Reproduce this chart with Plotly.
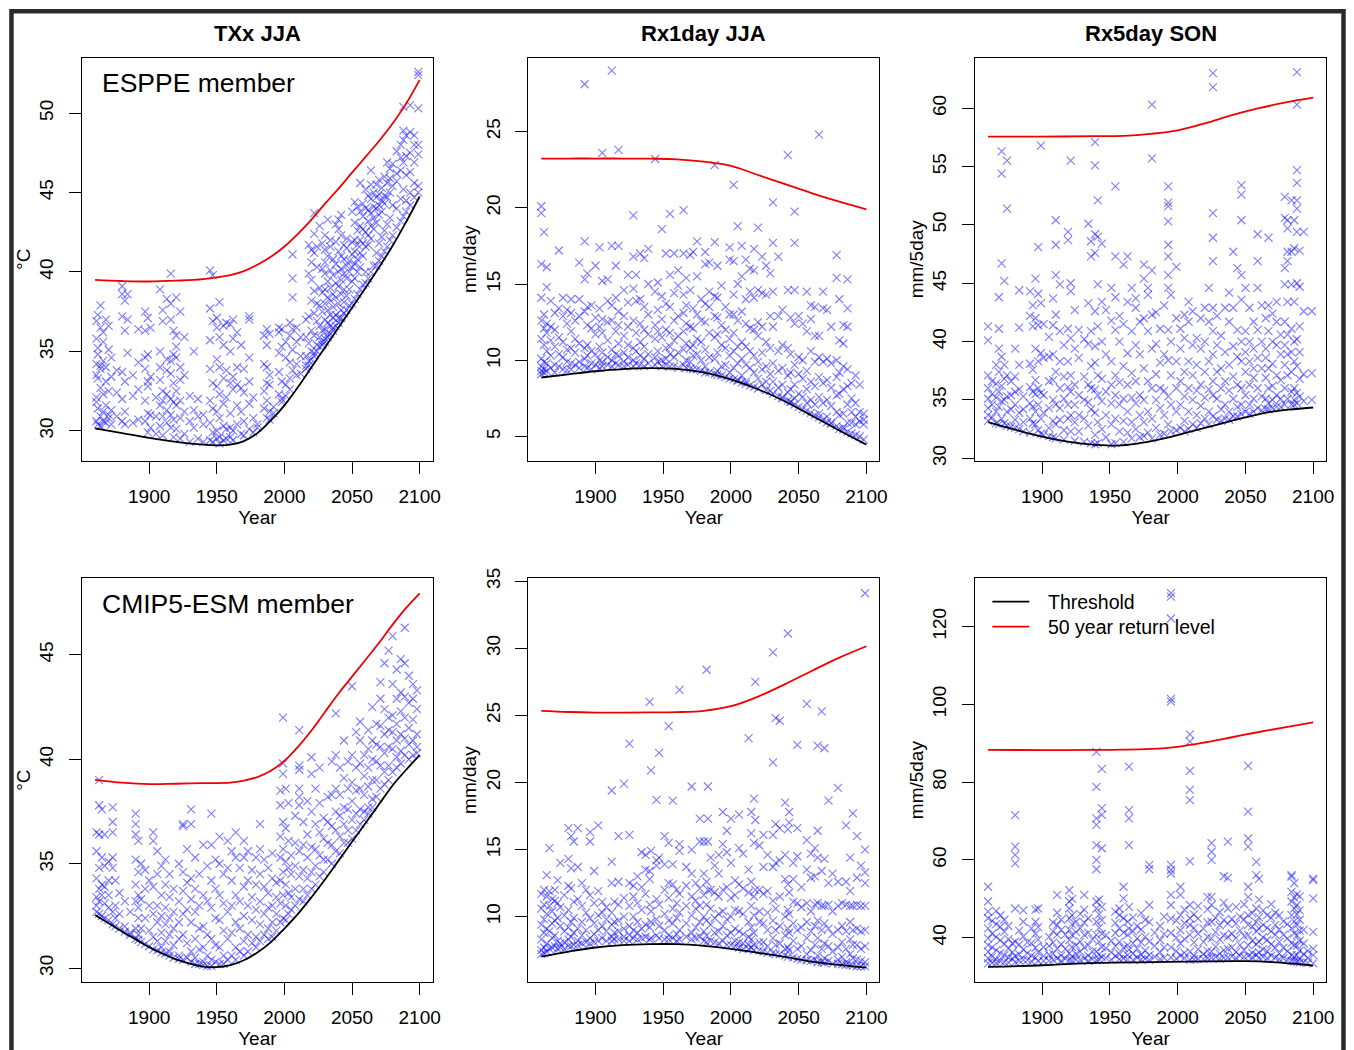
import plotly.graph_objects as go

# ---------------- text ----------------
PANEL_TITLES = ["TXx JJA", "Rx1day JJA", "Rx5day SON"]
ROW_LABELS = ["ESPPE member", "CMIP5-ESM member"]
Y_UNITS = ["°C", "mm/day", "mm/5day"]
X_TITLE = "Year"
X_TICKS = [1900, 1950, 2000, 2050, 2100]
LEGEND_LABELS = ["Threshold", "50 year return level"]

# ---------------- curves (threshold = black, 50-yr return level = red) ----------------
TXX_ESPPE_THR_YR = [1860, 1880, 1900, 1920, 1940, 1950, 1960, 1970, 1980, 1990, 2000, 2010, 2020, 2030, 2040, 2050, 2060, 2070, 2080, 2090, 2100]
TXX_ESPPE_THR = [30.15, 29.85, 29.55, 29.3, 29.12, 29.08, 29.12, 29.35, 29.85, 30.65, 31.6, 32.75, 34.0, 35.25, 36.5, 37.75, 39.0, 40.3, 41.65, 43.15, 44.75]
TXX_ESPPE_RL_YR = [1860, 1880, 1900, 1920, 1940, 1960, 1970, 1980, 1990, 2000, 2010, 2020, 2030, 2040, 2050, 2060, 2070, 2080, 2090, 2100]
TXX_ESPPE_RL = [39.5, 39.43, 39.4, 39.45, 39.55, 39.8, 40.05, 40.45, 40.95, 41.6, 42.4, 43.3, 44.3, 45.25, 46.25, 47.25, 48.25, 49.35, 50.6, 52.1]

RX1_ESPPE_YR = [1860, 1880, 1900, 1920, 1940, 1960, 1980, 2000, 2020, 2040, 2060, 2080, 2100]
RX1_ESPPE_THR = [8.87, 9.08, 9.28, 9.42, 9.48, 9.43, 9.2, 8.75, 8.1, 7.3, 6.35, 5.4, 4.47]
RX1_ESPPE_RL = [23.22, 23.23, 23.23, 23.23, 23.22, 23.18, 23.02, 22.75, 22.15, 21.55, 20.95, 20.4, 19.9]

RX5_ESPPE_THR_YR = [1860, 1880, 1900, 1920, 1940, 1955, 1970, 1990, 2010, 2030, 2050, 2070, 2085, 2100]
RX5_ESPPE_THR = [33.1, 32.45, 31.85, 31.4, 31.15, 31.08, 31.25, 31.7, 32.3, 32.9, 33.5, 34.0, 34.2, 34.35]
RX5_ESPPE_RL_YR = [1860, 1900, 1940, 1960, 1980, 2000, 2020, 2040, 2060, 2080, 2100]
RX5_ESPPE_RL = [57.57, 57.57, 57.6, 57.63, 57.8, 58.1, 58.7, 59.4, 60.0, 60.5, 60.9]

TXX_CMIP5_THR_YR = [1860, 1870, 1880, 1890, 1900, 1910, 1920, 1930, 1940, 1950, 1960, 1970, 1980, 1990, 2000, 2010, 2020, 2030, 2040, 2050, 2060, 2070, 2080, 2090, 2100]
TXX_CMIP5_THR = [32.55, 32.15, 31.75, 31.38, 31.0, 30.7, 30.42, 30.22, 30.08, 30.05, 30.15, 30.38, 30.75, 31.25, 31.9, 32.6, 33.4, 34.25, 35.15, 36.05, 36.95, 37.85, 38.75, 39.5, 40.2]
TXX_CMIP5_RL_YR = [1860, 1880, 1900, 1920, 1940, 1960, 1970, 1980, 1990, 2000, 2010, 2020, 2030, 2040, 2050, 2060, 2070, 2080, 2090, 2100]
TXX_CMIP5_RL = [39.02, 38.88, 38.81, 38.83, 38.86, 38.88, 38.98, 39.15, 39.45, 39.93, 40.6, 41.38, 42.27, 43.15, 43.96, 44.77, 45.58, 46.45, 47.25, 47.95]

RX1_CMIP5_YR = [1860, 1880, 1900, 1920, 1940, 1960, 1980, 2000, 2020, 2040, 2060, 2080, 2100]
RX1_CMIP5_THR = [7.02, 7.4, 7.7, 7.88, 7.95, 7.95, 7.82, 7.6, 7.3, 7.0, 6.65, 6.4, 6.2]
RX1_CMIP5_RL = [25.33, 25.25, 25.21, 25.21, 25.22, 25.24, 25.34, 25.68, 26.4, 27.33, 28.33, 29.3, 30.15]

RX5_CMIP5_THR_YR = [1860, 1900, 1940, 1980, 2020, 2050, 2070, 2085, 2100]
RX5_CMIP5_THR = [32.5, 32.9, 33.5, 33.7, 33.9, 33.95, 33.7, 33.3, 32.8]
RX5_CMIP5_RL_YR = [1860, 1900, 1940, 1960, 1980, 2000, 2020, 2040, 2060, 2080, 2100]
RX5_CMIP5_RL = [88.3, 88.25, 88.3, 88.35, 88.55, 89.1, 90.2, 91.55, 92.9, 94.15, 95.35]

# ---------------- exceedances: (year, [values]) ----------------
TXX_ESPPE_PTS = [
    (1861, [35.8, 36.9, 34.2, 32.1, 30.6, 31.8, 33.5]), (1862, [37.3, 35.2, 33.3, 30.4, 34.8, 31.4]),
    (1864, [37.9, 36.5, 34.1, 32.7, 30.9, 30.3, 33.9]), (1866, [36.2, 34.4, 31.2, 30.6, 32.3, 35.6]),
    (1868, [37.0, 34.0, 30.5, 33.1, 31.6]), (1870, [36.6, 35.1, 32.5, 31.0, 30.8]),
    (1872, [34.6, 33.4, 31.3, 30.4]), (1876, [32.4, 30.9, 33.8]),
    (1880, [39.1, 38.6, 37.2, 33.7, 32.0, 30.6]), (1882, [38.2, 36.3, 33.1, 31.2, 30.4]),
    (1884, [38.6, 37.0, 34.9]), (1888, [33.5, 32.2, 30.5]), (1892, [36.4, 34.3, 32.6, 30.7]),
    (1897, [37.5, 36.3, 33.9, 31.9, 30.6, 34.6]), (1899, [37.1, 34.8, 33.1, 32.8, 31.1, 29.9]),
    (1901, [36.5, 33.4, 31.0, 30.2]), (1905, [32.1, 30.9, 29.8]),
    (1908, [38.9, 35.0, 34.0, 33.2, 31.6, 30.3]), (1910, [37.6, 36.9, 32.5, 31.9, 30.9, 29.7]),
    (1913, [38.3, 34.5, 33.8, 32.3, 31.3, 30.5]), (1916, [39.9, 38.0, 37.0, 34.4, 33.6, 32.0, 31.0, 30.2]),
    (1918, [36.3, 34.8, 33.0, 31.8, 30.7, 29.6]), (1920, [38.4, 36.0, 35.3, 34.6, 32.5, 31.6, 30.1]),
    (1923, [37.5, 34.0, 33.2, 31.9, 30.8, 29.5]), (1926, [35.9, 33.5, 31.2, 29.8]),
    (1930, [32.2, 30.6, 29.3]), (1933, [35.0, 31.3, 30.2]), (1936, [32.0, 30.9, 29.5]),
    (1940, [31.0, 30.4, 29.3]), (1945, [40.1, 37.7, 35.7, 33.9, 31.9, 30.5, 29.4]),
    (1947, [39.8, 36.9, 33.0, 31.4, 29.9, 29.3]), (1950, [37.1, 36.5, 34.5, 32.8, 31.2, 30.0, 29.5]),
    (1952, [38.1, 35.9, 34.0, 32.3, 30.8, 29.6, 29.2]), (1955, [36.6, 35.4, 33.3, 31.7, 30.3, 29.4]),
    (1957, [36.8, 33.8, 32.1, 30.1, 29.5]), (1960, [36.7, 35.0, 33.0, 31.1, 30.2, 29.6]),
    (1962, [37.0, 35.8, 33.4, 32.6, 30.0, 29.4]), (1965, [36.2, 34.0, 32.9, 31.6, 30.4]),
    (1968, [35.4, 32.7, 31.2, 29.8]), (1970, [33.9, 32.4, 30.6, 29.7]),
    (1974, [37.2, 37.0, 34.6, 33.1, 31.7, 30.1]), (1977, [32.1, 30.8, 29.9]), (1980, [30.4, 30.2]),
    (1985, [36.0, 34.2, 32.5, 31.4]), (1987, [36.4, 35.4, 34.0, 33.0, 31.9, 30.8]),
    (1989, [36.1, 33.5, 32.9, 31.2, 30.7]), (1992, [31.5, 31.1]),
    (1996, [36.5, 36.2, 34.9, 33.7, 32.3]), (1998, [36.4, 35.3, 33.1, 32.0, 31.8]),
    (2001, [35.6, 34.6, 32.9, 32.2]), (2004, [36.8, 36.0, 34.3, 33.3, 32.6]),
    (2006, [41.1, 39.6, 38.4, 36.4, 35.1, 33.8]), (2009, [36.5, 35.6, 34.2, 33.5]),
    (2012, [35.9, 34.7, 33.6]), (2016, [37.0, 35.9, 34.7, 34.1, 33.9]),
    (2018, [41.7, 39.9, 37.2, 35.5, 34.4, 34.1]), (2020, [41.4, 40.6, 39.5, 38.2, 36.3, 35.0, 34.5]),
    (2022, [43.7, 42.4, 41.2, 38.8, 37.4, 36.0, 34.9, 34.7]), (2024, [41.6, 40.3, 38.0, 36.9, 35.4, 35.0]),
    (2026, [42.9, 39.0, 37.9, 36.6, 35.9, 35.3]), (2028, [41.8, 40.2, 38.7, 37.5, 36.3, 35.6, 35.4]),
    (2030, [42.3, 41.4, 40.6, 39.9, 38.9, 38.0, 37.0, 36.4, 35.8, 35.6]),
    (2032, [43.3, 41.0, 39.4, 38.4, 37.6, 36.8, 36.1, 35.9]),
    (2034, [42.0, 41.6, 40.1, 39.0, 38.2, 37.3, 36.6, 36.1]), (2036, [40.8, 39.8, 38.6, 37.8, 37.1, 36.5, 36.3]),
    (2038, [43.0, 41.9, 40.5, 39.3, 38.4, 37.3, 36.6]), (2040, [43.3, 42.7, 41.3, 40.0, 39.1, 38.0, 37.1, 36.8]),
    (2042, [43.6, 42.3, 41.0, 40.2, 39.5, 38.6, 37.6, 37.1]), (2044, [41.7, 40.8, 39.9, 38.9, 38.1, 37.4]),
    (2046, [42.1, 41.5, 40.4, 39.6, 38.5, 37.6]), (2048, [40.7, 40.0, 38.9, 37.9]),
    (2050, [43.8, 41.9, 41.1, 40.3, 39.4, 38.0]), (2052, [44.4, 43.1, 42.0, 41.3, 40.5, 39.6, 38.3]),
    (2054, [44.1, 42.6, 41.7, 40.8, 40.0, 38.6]), (2056, [45.6, 43.8, 42.9, 42.0, 41.2, 40.3, 38.9]),
    (2058, [44.3, 43.5, 42.7, 41.8, 41.0, 39.2]), (2060, [45.2, 44.0, 42.5, 41.6, 40.0, 39.3]),
    (2062, [44.8, 43.9, 43.2, 42.3, 41.7, 39.6]), (2064, [46.4, 45.5, 44.6, 43.7, 42.9, 42.1, 40.0]),
    (2066, [45.0, 44.1, 43.4, 42.7, 40.4]), (2068, [45.5, 44.7, 44.0, 43.1, 41.2, 40.4]),
    (2070, [45.8, 44.9, 44.2, 43.6, 41.8, 40.7]), (2072, [45.3, 44.5, 43.8, 42.2, 41.0]),
    (2074, [46.0, 44.8, 44.3, 42.6, 41.3]), (2076, [46.9, 45.6, 44.7, 43.0, 41.6]),
    (2078, [46.5, 45.9, 45.0, 43.4, 42.0]), (2080, [46.8, 45.4, 44.2, 42.3]),
    (2083, [47.6, 46.2, 45.7, 44.0, 42.8]), (2086, [48.0, 47.2, 46.4, 44.6, 43.2]),
    (2088, [50.4, 48.9, 48.3, 46.9, 45.2, 43.5]), (2090, [48.6, 47.3, 46.1, 44.5, 43.8]),
    (2093, [50.5, 48.8, 47.5, 46.3, 45.0, 44.2]), (2096, [48.6, 48.0, 46.9, 45.6, 44.7]),
    (2099, [52.6, 52.4, 50.3, 48.0, 47.4, 45.4, 45.0]),
]

RX1_ESPPE_PTS = [
    (1860, [20.1, 19.65, 16.3, 14.1, 12.6, 11.4, 10.1, 9.6, 9.3, 9.1]), (1862, [18.4, 13.0, 12.1, 11.0, 9.9, 9.4, 9.2]),
    (1864, [16.1, 14.8, 12.4, 11.8, 10.6, 9.8, 9.3]), (1867, [13.9, 12.2, 11.3, 10.3, 9.5]),
    (1870, [13.1, 12.0, 10.9, 9.7, 9.2]), (1873, [17.2, 13.4, 11.5, 10.4, 9.6]),
    (1876, [14.1, 12.9, 11.2, 10.2, 9.4]), (1879, [13.3, 12.4, 10.7, 9.9, 9.35]),
    (1882, [14.0, 13.1, 11.9, 10.8, 9.8, 9.4]), (1885, [12.6, 11.4, 10.5, 9.7]),
    (1888, [16.4, 14.0, 12.9, 11.1, 9.9, 9.5]), (1892, [28.1, 17.8, 15.3, 13.2, 10.8, 10.1, 9.6]),
    (1894, [15.7, 13.5, 12.3, 11.0, 10.3, 9.5]), (1897, [13.6, 12.1, 10.6, 9.8, 9.4]),
    (1900, [16.2, 12.8, 11.7, 10.4, 9.7]), (1903, [17.4, 13.4, 12.2, 10.9, 10.0, 9.5]),
    (1905, [23.6, 15.2, 12.7, 11.8, 10.5, 9.9, 9.6]), (1909, [15.3, 13.9, 12.5, 11.3, 10.2, 9.7]),
    (1912, [29.0, 17.5, 13.6, 12.6, 10.7, 10.0, 9.6]), (1915, [16.2, 14.1, 11.9, 10.4, 9.8]),
    (1917, [23.8, 17.5, 13.2, 12.3, 11.1, 10.3, 9.7]), (1921, [14.6, 12.9, 11.6, 10.5, 9.9, 9.6]),
    (1924, [15.6, 13.8, 12.2, 11.0, 10.2, 9.7]), (1928, [19.5, 16.8, 14.7, 12.6, 10.8, 10.0, 9.6]),
    (1930, [15.6, 13.9, 11.8, 10.6, 9.8]), (1933, [17.0, 14.0, 12.4, 11.2, 10.3, 9.7]),
    (1936, [16.7, 13.5, 12.0, 10.9, 10.1, 9.6]), (1939, [17.3, 15.0, 13.0, 11.7, 10.4, 9.8]),
    (1944, [23.2, 14.5, 12.3, 11.4, 10.2, 9.7]), (1946, [15.1, 13.3, 11.9, 10.6, 9.9]),
    (1949, [18.6, 14.2, 12.7, 11.5, 10.0, 9.6]), (1952, [17.0, 13.7, 12.0, 10.8, 10.1, 9.7]),
    (1955, [19.6, 15.6, 13.5, 11.8, 10.9, 10.4, 9.6]), (1958, [17.0, 14.4, 12.6, 11.3, 10.2, 9.6]),
    (1961, [15.9, 14.9, 12.9, 11.6, 10.5, 9.5]), (1965, [19.85, 17.0, 14.3, 13.1, 11.9, 10.7, 9.7]),
    (1967, [15.4, 13.6, 12.4, 11.1, 10.0, 9.5]), (1970, [16.9, 14.6, 12.2, 10.8, 9.9, 9.45]),
    (1972, [17.1, 13.4, 12.1, 11.0, 10.3, 9.4]), (1975, [17.8, 15.5, 13.0, 11.4, 10.4, 9.4]),
    (1978, [14.0, 12.6, 11.2, 10.0, 9.3]), (1981, [17.1, 16.3, 13.7, 12.5, 10.7, 9.6, 9.2]),
    (1984, [16.4, 14.5, 13.5, 11.8, 10.2, 9.2]), (1988, [22.8, 17.75, 14.2, 12.9, 11.5, 10.1, 9.1]),
    (1990, [16.2, 14.1, 12.8, 11.7, 10.5, 9.3, 9.05]), (1993, [14.9, 12.3, 11.0, 9.6, 9.0]),
    (1996, [13.5, 12.0, 10.8, 9.7, 8.9]), (1999, [17.4, 16.6, 13.0, 11.4, 10.3, 9.2, 8.8]),
    (2002, [21.5, 16.5, 14.3, 13.0, 11.8, 10.6, 9.5, 8.75]), (2005, [18.8, 15.0, 12.6, 10.9, 9.8, 8.7, 8.65]),
    (2008, [17.5, 15.5, 13.2, 11.2, 10.1, 9.0, 8.55]), (2011, [16.6, 14.0, 12.4, 10.9, 9.7, 8.6, 8.45]),
    (2014, [16.0, 14.5, 12.1, 10.6, 9.5, 8.35]), (2017, [17.3, 15.9, 14.1, 12.0, 10.3, 9.2, 8.25]),
    (2020, [18.7, 14.6, 12.5, 11.6, 9.9, 8.8, 8.15]), (2023, [16.8, 14.4, 12.2, 10.5, 9.4, 8.4]),
    (2026, [16.2, 14.3, 11.2, 9.6, 8.6, 8.05]), (2029, [15.7, 12.9, 10.8, 9.1, 8.0]),
    (2031, [20.35, 17.7, 14.5, 12.2, 9.8, 8.6, 7.8]), (2035, [16.8, 12.9, 10.6, 9.3, 8.2, 7.65]),
    (2038, [13.3, 11.0, 9.5, 8.4, 7.6, 7.5]), (2042, [23.45, 14.6, 10.8, 9.0, 7.9, 7.35]),
    (2044, [12.8, 10.4, 9.2, 8.1, 7.3, 7.25]), (2047, [19.75, 17.7, 14.6, 12.4, 9.7, 8.4, 7.5, 7.1]),
    (2050, [12.9, 10.2, 9.1, 7.8, 6.95]), (2053, [12.4, 10.0, 8.8, 7.6, 6.8]),
    (2056, [14.5, 11.9, 9.3, 8.1, 7.2, 6.7]), (2059, [13.6, 12.7, 10.6, 8.6, 7.4, 6.55]),
    (2062, [13.5, 11.6, 9.9, 8.3, 7.1, 6.4]), (2065, [24.8, 11.6, 10.2, 8.9, 7.6, 6.5, 6.25]),
    (2068, [14.5, 13.4, 9.9, 8.5, 7.2, 6.1]), (2071, [13.3, 10.1, 8.7, 7.4, 6.3, 5.95]),
    (2074, [12.2, 9.8, 8.2, 7.0, 5.9, 5.85]), (2078, [16.9, 15.4, 10.0, 8.9, 7.7, 6.6, 5.7]),
    (2080, [14.0, 11.3, 9.2, 7.8, 6.4, 5.5]), (2083, [12.3, 11.1, 9.6, 8.1, 6.5, 5.6, 5.45]),
    (2086, [15.3, 13.4, 12.2, 9.4, 8.3, 7.1, 5.9, 5.3]), (2089, [8.5, 7.5, 6.6, 5.9, 5.2]),
    (2092, [9.0, 7.2, 6.3, 5.8, 5.1]), (2095, [8.4, 6.6, 6.0, 5.0]), (2098, [6.5, 6.1, 5.8, 4.8]),
]

RX5_ESPPE_PTS = [
    (1860, [41.3, 40.1, 37.1, 36.0, 35.1, 34.3, 33.7, 33.2]), (1863, [36.6, 35.5, 34.6, 33.5]),
    (1866, [38.0, 36.4, 35.2, 34.0, 33.0]), (1868, [43.8, 41.1, 39.4, 37.4, 35.7, 34.4, 32.9]),
    (1870, [56.3, 54.4, 46.7, 38.7, 36.2, 34.9, 33.4]), (1872, [45.2, 38.0, 36.8, 35.0, 33.0]),
    (1874, [55.5, 51.4, 37.1, 35.3, 34.0, 32.8]), (1877, [36.6, 35.4, 34.2, 32.7]),
    (1880, [39.4, 37.0, 35.7, 34.6, 33.3, 32.6]), (1883, [44.4, 41.2, 38.0, 35.9, 33.9, 32.5]),
    (1886, [35.3, 34.2, 33.1, 32.3]), (1891, [44.3, 42.2, 38.1, 36.1, 34.7, 33.4, 32.2]),
    (1893, [43.1, 41.3, 37.6, 35.7, 34.4, 33.0]), (1895, [45.4, 42.0, 39.4, 36.7, 35.5, 34.0, 32.9]),
    (1897, [48.1, 44.1, 41.4, 38.3, 36.0, 34.6, 32.4]), (1899, [56.8, 43.3, 39.0, 35.6, 33.4, 32.1]),
    (1901, [41.5, 38.6, 35.4, 33.9, 32.0]), (1905, [40.4, 38.7, 36.6, 34.3, 32.6, 31.9]),
    (1908, [43.7, 41.4, 38.9, 36.7, 35.0, 33.2, 31.8]), (1910, [50.4, 48.3, 45.7, 42.3, 37.4, 34.6, 32.9, 31.7]),
    (1913, [44.9, 40.9, 38.3, 36.0, 34.3, 33.3]), (1916, [39.7, 37.0, 35.1, 32.4, 31.6]),
    (1919, [49.4, 48.7, 41.1, 38.3, 36.1, 34.6, 33.4]), (1921, [55.5, 45.0, 44.3, 40.3, 37.1, 35.7, 33.7, 32.3]),
    (1924, [42.7, 39.4, 36.3, 34.6, 33.1, 31.5]), (1927, [41.0, 38.6, 35.4, 33.7, 32.3]),
    (1931, [40.2, 37.0, 35.0, 33.4, 31.4]), (1934, [50.1, 43.3, 39.8, 36.3, 34.8, 32.8]),
    (1936, [48.6, 47.3, 40.9, 37.9, 36.0, 34.2, 31.3]),
    (1939, [57.1, 55.1, 49.2, 47.6, 42.6, 39.6, 38.2, 35.9, 33.9, 32.0, 31.2]),
    (1941, [52.1, 49.0, 44.9, 41.3, 37.1, 35.4, 33.1, 31.3]), (1944, [48.4, 43.4, 40.0, 36.8, 34.9, 32.5]),
    (1947, [42.7, 38.9, 35.7, 33.7, 31.8]), (1951, [44.6, 41.8, 38.3, 36.3, 34.7, 32.9, 31.2]),
    (1954, [53.3, 47.3, 43.8, 41.0, 37.1, 35.4, 33.4, 31.3]), (1957, [42.2, 40.0, 36.5, 34.6, 32.3]),
    (1960, [46.6, 41.5, 37.9, 35.1, 33.2, 31.4]), (1963, [47.3, 43.4, 39.0, 36.3, 34.0, 32.2]),
    (1966, [44.6, 40.9, 37.3, 35.2, 33.1, 31.7]), (1969, [43.7, 42.9, 39.7, 36.6, 34.7, 32.5]),
    (1972, [41.7, 38.9, 35.4, 33.7, 31.8]), (1975, [46.6, 45.4, 42.0, 37.7, 35.0, 33.1, 31.9]),
    (1978, [44.6, 44.0, 40.9, 36.6, 34.0, 32.2]), (1981, [60.3, 55.7, 46.1, 42.3, 39.4, 36.0, 33.4, 31.7]),
    (1984, [42.5, 39.8, 37.2, 35.0, 32.6]), (1987, [41.1, 38.2, 36.0, 34.3, 32.0]),
    (1990, [43.1, 38.9, 35.8, 33.7, 32.1]),
    (1993, [53.3, 51.9, 51.6, 50.3, 48.3, 47.3, 45.7, 44.6, 41.0, 38.4, 35.3, 32.9]),
    (1995, [44.0, 40.0, 37.1, 34.6, 32.3]), (1999, [46.4, 42.0, 38.3, 36.0, 34.0, 32.4]),
    (2002, [41.1, 39.4, 36.6, 34.6, 32.6]), (2005, [42.3, 40.3, 37.4, 35.3, 33.2, 32.3]),
    (2008, [43.4, 41.7, 38.3, 36.0, 34.0, 32.5]), (2011, [42.6, 39.7, 37.1, 35.0, 32.9]),
    (2014, [40.3, 38.0, 35.8, 33.7, 32.6]), (2017, [42.0, 39.4, 36.3, 34.5, 33.0]),
    (2020, [42.9, 40.0, 37.4, 35.2, 33.4]), (2023, [44.6, 41.7, 38.3, 35.9, 34.0, 32.9]),
    (2026, [63.0, 61.8, 51.0, 48.9, 46.9, 42.9, 40.9, 38.9, 36.6, 35.4, 33.6]),
    (2029, [42.2, 39.7, 37.4, 35.1, 33.3]), (2032, [40.5, 37.7, 36.0, 34.2, 33.2]),
    (2035, [42.9, 39.1, 36.6, 34.6, 33.4]), (2038, [44.2, 41.7, 38.0, 35.8, 34.0, 33.3]),
    (2041, [47.7, 42.9, 39.6, 37.0, 35.1, 33.6]), (2044, [46.3, 41.0, 38.7, 36.3, 34.4, 33.6]),
    (2047, [53.4, 52.6, 50.4, 45.7, 43.6, 40.0, 38.3, 36.0, 34.6, 33.8]),
    (2050, [44.6, 40.9, 39.1, 37.4, 35.4, 34.0]), (2053, [42.9, 40.0, 38.3, 36.3, 34.6, 33.8]),
    (2056, [41.7, 39.4, 37.7, 36.9, 35.1, 34.0]), (2059, [49.2, 46.9, 44.6, 41.0, 38.6, 36.0, 34.3]),
    (2062, [43.1, 40.0, 37.7, 35.3, 34.1]), (2065, [42.0, 39.4, 38.6, 36.9, 35.1, 34.2]),
    (2067, [48.9, 43.1, 40.9, 37.7, 36.0, 34.7, 34.2]), (2070, [42.4, 40.0, 38.1, 36.2, 35.0, 34.3]),
    (2073, [43.4, 41.7, 39.7, 37.1, 35.4, 34.4]), (2076, [40.6, 38.9, 36.7, 35.1, 34.4]),
    (2079, [52.4, 50.6, 46.3, 44.9, 41.7, 39.7, 38.0, 36.0, 34.6]),
    (2081, [50.4, 49.7, 47.7, 46.9, 43.4, 40.6, 38.9, 37.1, 35.1]),
    (2084, [52.1, 47.7, 44.9, 41.1, 39.1, 37.4, 35.7, 34.6]), (2086, [50.4, 48.0, 43.4, 40.0, 38.3, 36.0, 35.0, 34.6]),
    (2088, [63.1, 60.3, 54.7, 53.6, 52.1, 51.4, 49.4, 45.0, 40.2, 37.9, 35.6, 34.7]),
    (2090, [47.8, 44.7, 41.3, 39.1, 36.8, 35.3]), (2093, [49.4, 42.6, 37.2, 34.9]),
    (2099, [42.6, 37.3, 35.0]),
]

TXX_CMIP5_PTS = [
    (1861, [36.5, 35.6, 34.3, 33.4, 33.0, 32.7]), (1863, [39.0, 37.8, 36.4, 34.8, 33.8, 33.2, 32.6]),
    (1865, [37.6, 35.3, 34.0, 33.5, 32.5]), (1867, [36.4, 34.9, 33.9, 33.1, 32.4]),
    (1870, [35.1, 34.2, 33.5, 32.9, 32.3]), (1873, [37.7, 37.0, 36.5, 35.3, 34.8, 32.7, 32.1]),
    (1875, [34.2, 33.0, 32.4, 32.0]), (1878, [33.6, 32.6, 31.9]), (1882, [33.2, 32.0, 31.75]),
    (1886, [32.7, 31.7, 31.6]), (1890, [37.4, 36.9, 36.4, 35.2, 34.0, 33.2, 31.9, 31.4]),
    (1892, [36.1, 34.6, 33.5, 32.9, 32.4, 31.6, 31.35]), (1894, [35.0, 33.3, 31.9, 31.25]),
    (1897, [34.7, 33.8, 32.4, 31.15]), (1900, [34.2, 33.0, 31.8, 31.05]),
    (1903, [36.5, 36.1, 33.9, 32.6, 31.5, 30.9]), (1906, [35.6, 34.5, 33.0, 32.2, 31.3, 30.85]),
    (1909, [34.9, 33.5, 32.5, 31.7, 31.0, 30.75]), (1912, [35.2, 34.0, 32.9, 32.1, 31.3, 30.7]),
    (1915, [34.5, 33.4, 32.4, 31.6, 30.8, 30.6]), (1918, [33.8, 32.7, 31.9, 31.1, 30.5]),
    (1922, [35.0, 33.2, 32.2, 31.4, 30.6, 30.45]), (1925, [36.9, 36.8, 34.6, 33.7, 32.6, 31.6, 30.4]),
    (1928, [35.7, 34.1, 32.8, 31.2, 30.5]), (1931, [37.6, 36.9, 34.3, 33.3, 32.2, 30.8, 30.3]),
    (1934, [35.3, 33.8, 32.7, 31.4, 30.5, 30.2]), (1937, [34.5, 33.0, 31.9, 30.9, 30.2]),
    (1940, [35.9, 33.5, 32.0, 31.0, 30.3, 30.15]), (1943, [34.9, 33.2, 31.6, 30.6, 30.1]),
    (1946, [37.4, 35.9, 34.2, 32.9, 31.4, 30.4, 30.1]), (1949, [35.2, 33.8, 32.4, 31.1, 30.3]),
    (1952, [36.3, 35.0, 33.5, 32.3, 31.0, 30.2]), (1955, [34.5, 33.1, 31.8, 30.6, 30.2]),
    (1958, [36.1, 34.8, 32.7, 31.4, 30.4]), (1961, [35.6, 34.2, 33.0, 31.7, 30.6]),
    (1964, [36.5, 35.3, 33.5, 32.2, 31.0, 30.4]), (1967, [34.8, 33.2, 31.9, 30.8]),
    (1970, [36.1, 35.3, 33.9, 32.5, 31.3, 30.6]), (1973, [35.6, 34.2, 33.0, 31.6, 30.8]),
    (1976, [34.7, 33.4, 32.3, 31.2]), (1979, [35.3, 34.0, 32.8, 31.5, 31.0]),
    (1982, [36.9, 35.7, 34.5, 33.2, 32.1, 31.3]), (1985, [35.2, 33.9, 32.6, 31.6]),
    (1988, [34.8, 33.6, 32.9, 31.9, 31.4]), (1991, [35.5, 34.3, 33.0, 32.2, 31.5]),
    (1994, [34.1, 33.4, 32.6, 31.8]), (1997, [38.5, 37.8, 36.3, 35.3, 34.2, 33.1, 32.2]),
    (1999, [42.0, 39.8, 39.3, 37.0, 35.7, 34.6, 33.5, 32.4]), (2001, [38.6, 36.7, 35.1, 34.0, 33.0, 32.3]),
    (2003, [37.9, 36.1, 34.8, 33.6, 32.6]), (2005, [35.4, 34.5, 33.4, 32.8]),
    (2008, [37.3, 36.0, 34.9, 33.8, 33.0]), (2011, [41.4, 39.7, 39.5, 38.6, 38.2, 37.8, 35.6, 34.4, 33.3]),
    (2014, [37.0, 35.9, 34.7, 33.8, 33.2]), (2017, [38.0, 36.4, 35.3, 34.3, 33.5]),
    (2020, [40.1, 39.3, 37.5, 35.8, 34.6, 33.8]), (2023, [38.6, 36.9, 35.7, 34.9, 34.0]),
    (2026, [39.6, 37.9, 36.5, 35.4, 34.4]), (2029, [37.2, 36.2, 35.2, 34.6]),
    (2032, [38.2, 37.0, 36.0, 35.2]), (2035, [39.9, 38.3, 36.8, 35.9, 35.0]),
    (2038, [42.2, 40.2, 38.6, 37.5, 36.6, 35.6]), (2041, [39.6, 38.3, 37.3, 36.3, 35.5]),
    (2044, [40.9, 39.1, 37.7, 36.9, 36.0]), (2047, [39.9, 38.6, 37.6, 36.6, 36.0]),
    (2050, [43.5, 40.2, 38.9, 38.0, 37.1, 36.2]), (2053, [41.3, 39.6, 38.5, 37.4, 36.6]),
    (2056, [41.8, 40.9, 39.8, 38.6, 37.6, 36.9]), (2059, [40.2, 39.2, 38.3, 37.5, 37.1]),
    (2062, [41.4, 40.5, 39.6, 38.7, 37.7, 37.4]), (2065, [42.5, 40.9, 40.0, 39.0, 38.1, 37.7]),
    (2068, [41.7, 40.7, 39.9, 39.0, 38.2]), (2071, [43.7, 42.9, 41.6, 40.6, 39.7, 38.6]),
    (2074, [44.6, 42.4, 41.2, 40.3, 39.4, 38.8]), (2077, [45.2, 42.0, 41.4, 40.6, 39.7, 39.0]),
    (2080, [45.9, 43.6, 42.1, 41.3, 40.5, 39.4]), (2083, [44.3, 42.9, 41.7, 40.9, 40.1, 39.6]),
    (2086, [44.8, 43.2, 42.3, 41.2, 40.4, 39.8]), (2089, [46.3, 44.6, 43.0, 42.0, 41.0, 40.2]),
    (2092, [44.0, 42.7, 41.5, 40.7, 40.0]), (2095, [43.6, 42.9, 41.9, 40.9, 40.2]),
    (2098, [43.3, 42.4, 41.2, 40.6, 40.3]),
]

RX1_CMIP5_PTS = [
    (1860, [11.7, 10.6, 9.4, 8.3, 7.5, 7.2]), (1862, [12.0, 10.9, 9.8, 8.8, 7.7, 7.3]),
    (1864, [13.1, 11.5, 10.2, 9.1, 8.0, 7.4]), (1866, [15.1, 11.9, 10.8, 8.9, 7.6]),
    (1868, [11.3, 10.4, 9.5, 8.4, 7.7]), (1870, [12.0, 11.2, 9.7, 8.6, 7.8]),
    (1872, [12.7, 11.0, 9.9, 8.2, 7.6]), (1874, [14.0, 10.7, 9.3, 8.0, 7.7]),
    (1877, [11.6, 10.1, 8.9, 8.1, 7.6]), (1880, [16.6, 14.3, 12.3, 10.5, 9.2, 8.3, 7.8]),
    (1882, [16.0, 13.6, 12.1, 9.6, 8.5, 7.8]), (1884, [15.6, 11.1, 9.9, 8.8, 7.9]),
    (1887, [16.6, 13.7, 11.3, 9.1, 8.2, 7.9]), (1890, [12.5, 10.8, 9.6, 8.6, 8.0]),
    (1893, [12.0, 10.3, 9.0, 8.1]), (1896, [16.3, 15.6, 11.6, 9.9, 8.4, 8.0]),
    (1899, [13.4, 11.0, 9.5, 8.7, 8.1]), (1902, [16.8, 11.9, 10.1, 9.0, 8.2]),
    (1905, [11.1, 10.3, 9.3, 8.4]), (1908, [10.7, 9.8, 8.9, 8.2]),
    (1912, [19.4, 14.1, 12.5, 10.3, 9.4, 8.5, 8.2]), (1914, [11.1, 9.6, 8.8, 8.3]),
    (1917, [16.0, 12.6, 10.9, 9.7, 8.9, 8.3]), (1921, [19.9, 11.4, 10.0, 9.1, 8.5, 8.2]),
    (1925, [22.9, 16.1, 12.5, 10.8, 9.3, 8.6, 8.2]), (1928, [12.3, 11.5, 10.0, 9.0, 8.4]),
    (1931, [13.0, 11.0, 9.6, 8.8, 8.3]), (1934, [14.8, 12.2, 10.5, 9.1, 8.4]),
    (1937, [14.6, 13.5, 11.7, 9.4, 8.5]), (1940, [26.0, 13.4, 12.8, 10.9, 9.2, 8.3]),
    (1941, [20.9, 14.9, 10.4, 9.6, 8.4]), (1945, [18.7, 14.2, 13.8, 11.3, 9.8, 8.6]),
    (1947, [22.2, 14.4, 10.9, 9.3, 8.4]), (1951, [16.0, 13.9, 12.0, 10.2, 9.0, 8.3]),
    (1954, [24.2, 15.5, 12.5, 11.4, 9.7, 8.6, 8.3]), (1957, [18.65, 13.9, 12.4, 10.6, 9.5, 8.4]),
    (1960, [12.0, 11.0, 9.9, 8.7, 8.2]), (1962, [26.9, 15.4, 14.9, 11.7, 10.3, 9.0, 8.3]),
    (1967, [13.7, 12.3, 10.8, 9.5, 8.5]), (1971, [19.7, 15.0, 13.2, 11.5, 10.1, 8.8, 8.3]),
    (1974, [12.5, 11.2, 10.6, 9.2, 8.4]), (1977, [17.3, 15.6, 12.1, 10.8, 9.6, 8.5]),
    (1980, [15.6, 13.2, 11.6, 10.0, 8.9, 8.2]), (1982, [28.4, 12.6, 10.9, 9.7, 8.6, 8.1]),
    (1983, [19.7, 17.3, 15.6, 12.0]), (1985, [14.4, 12.0, 10.6, 9.4, 8.2]),
    (1988, [13.8, 11.8, 9.9, 8.8, 8.1]), (1991, [14.6, 13.2, 11.5, 10.2, 8.9, 8.0]),
    (1994, [17.8, 15.4, 12.0, 10.4, 9.3, 8.2]), (1997, [16.4, 14.8, 12.2, 9.8, 8.6, 7.9]),
    (2000, [17.3, 14.0, 11.4, 10.0, 8.8, 7.9]), (2003, [12.7, 11.6, 10.5, 9.1, 8.2, 7.8]),
    (2006, [17.6, 15.1, 12.4, 10.4, 8.9, 8.1, 7.7]), (2009, [14.7, 12.1, 10.2, 8.7, 8.0, 7.6]),
    (2013, [23.3, 13.5, 11.8, 9.6, 8.5, 7.9, 7.6]), (2015, [17.8, 16.2, 12.6, 10.8, 9.2, 8.3, 7.7]),
    (2017, [18.8, 15.5, 11.5, 10.1, 8.8, 7.9, 7.5]), (2018, [27.5, 17.2, 12.0]),
    (2021, [15.3, 12.0, 10.4, 9.6, 8.1, 7.5]), (2024, [16.1, 13.7, 11.7, 9.5, 8.1, 7.4]),
    (2027, [14.6, 11.9, 10.3, 9.0, 7.8, 7.3]), (2031, [29.7, 21.5, 16.1, 13.7, 11.2, 9.7, 8.4, 7.3]),
    (2033, [24.8, 16.9, 14.0, 10.6, 9.0, 7.9, 7.2]), (2036, [24.6, 16.6, 14.2, 11.5, 9.3, 8.0, 7.2]),
    (2040, [18.5, 14.6, 12.8, 10.0, 8.6, 7.6, 7.1]), (2042, [31.1, 16.5, 12.4, 10.5, 9.1, 7.7, 7.0]),
    (2043, [17.8, 17.0, 11.8, 10.2, 8.8, 7.5]), (2046, [14.0, 12.8, 11.1, 9.5, 8.2, 6.95]),
    (2049, [22.8, 16.6, 14.5, 11.0, 9.0, 7.6, 6.85]), (2052, [12.2, 10.7, 9.2, 7.8, 6.8]),
    (2056, [25.85, 15.7, 13.5, 11.0, 9.6, 8.4, 7.2, 6.75]), (2059, [14.7, 12.9, 10.4, 8.9, 7.5, 6.7]),
    (2062, [15.1, 13.0, 10.9, 9.3, 7.9, 6.8]), (2064, [22.75, 16.4, 14.4, 11.0, 9.7, 8.4, 7.1, 6.6]),
    (2067, [25.3, 13.4, 10.8, 9.0, 7.6, 6.6]), (2069, [22.55, 14.3, 10.8, 9.5, 8.0, 6.9, 6.55]),
    (2072, [18.65, 12.5, 10.9, 9.1, 7.8, 6.7]), (2075, [13.2, 10.4, 8.7, 7.4, 6.5]),
    (2079, [19.6, 12.6, 10.8, 9.0, 7.7, 6.8, 6.5]), (2082, [11.0, 9.3, 8.1, 7.0, 6.45]),
    (2085, [16.8, 12.6, 10.9, 8.9, 7.6, 6.6, 6.4]), (2088, [14.4, 11.9, 10.8, 9.6, 8.3, 7.2, 6.4]),
    (2090, [17.7, 10.8, 9.0, 7.9, 6.9, 6.35]), (2093, [16.0, 12.9, 10.9, 9.1, 7.9, 6.8, 6.3]),
    (2096, [13.8, 10.8, 8.9, 7.6, 6.7, 6.3]), (2099, [34.1, 15.0, 13.3, 12.5, 10.8, 9.0, 7.8, 6.6, 6.3]),
]

RX5_CMIP5_PTS = [
    (1860, [53.1, 49.3, 46.7, 45.0, 42.4, 39.8, 38.1, 36.4, 34.7, 33.4]), (1863, [44.3, 41.0, 37.5, 35.1, 33.6]),
    (1866, [46.9, 43.5, 40.2, 36.8, 34.4, 33.5]), (1869, [45.7, 42.8, 39.3, 36.0, 34.0]),
    (1872, [44.6, 41.5, 38.4, 35.5, 33.7]), (1875, [43.0, 39.6, 37.2, 34.9, 33.6]),
    (1878, [38.5, 36.3, 34.6]), (1880, [71.5, 63.4, 61.3, 59.1, 47.5, 39.0, 35.2, 33.7]),
    (1883, [41.8, 38.2, 35.7, 34.1]), (1886, [47.0, 44.1, 40.3, 36.9, 34.3]),
    (1889, [38.8, 36.0, 34.2]), (1892, [42.4, 38.6, 35.4, 33.9]),
    (1895, [47.2, 44.1, 41.0, 37.4, 34.8]), (1897, [47.5, 42.7, 39.5, 36.2, 34.0]),
    (1901, [37.6, 35.3, 34.0]), (1905, [40.2, 37.9, 35.6, 34.1]),
    (1908, [43.9, 41.6, 38.7, 35.9, 34.3]), (1911, [51.0, 46.4, 43.3, 40.7, 37.2, 34.7]),
    (1914, [44.6, 42.0, 38.3, 35.4, 34.0]), (1917, [40.8, 37.1, 34.6]),
    (1920, [52.2, 49.3, 47.5, 45.0, 42.0, 39.4, 36.0, 34.2]), (1922, [50.0, 45.8, 43.4, 40.7, 37.6, 35.2, 34.1]),
    (1925, [44.1, 41.4, 38.1, 35.8, 34.4]), (1928, [46.1, 42.4, 39.0, 36.4, 34.3]),
    (1931, [51.0, 47.2, 43.9, 40.7, 37.5, 34.7]), (1934, [45.0, 41.3, 38.1, 35.4, 34.0]),
    (1937, [39.6, 36.4, 34.5]),
    (1940, [87.8, 78.8, 70.7, 69.0, 63.8, 60.0, 57.6, 49.3, 47.5, 44.1, 40.7, 36.4, 34.2]),
    (1942, [49.8, 46.0, 42.6, 39.0, 35.7, 34.4]), (1944, [83.4, 73.3, 71.6, 63.0, 47.9, 44.5, 41.0, 37.6, 35.0]),
    (1947, [40.6, 37.3, 34.8]), (1951, [39.2, 36.2, 34.3]), (1954, [46.7, 43.8, 41.2, 37.8, 35.3]),
    (1957, [47.5, 45.8, 42.4, 38.9, 35.8, 34.5]), (1960, [53.1, 50.1, 45.0, 41.3, 37.4, 34.7]),
    (1963, [44.1, 40.7, 38.1, 35.5, 34.4]), (1964, [84.0, 72.8, 70.7, 63.8, 47.9, 42.4, 36.9]),
    (1967, [45.2, 41.6, 38.6, 35.9, 34.3]), (1970, [43.0, 39.8, 37.2, 34.9]),
    (1973, [46.3, 42.1, 38.8, 35.6, 34.4]), (1976, [44.6, 40.2, 36.7, 34.6]),
    (1979, [58.7, 57.6, 48.4, 44.0, 39.0, 35.5, 34.3]), (1983, [41.3, 37.9, 35.1]),
    (1987, [43.0, 39.4, 36.2, 34.5]), (1990, [45.4, 40.9, 37.5, 34.8]),
    (1995, [128.6, 127.7, 122.1, 101.4, 100.7, 58.7, 57.4, 56.5, 51.0, 48.4, 44.9, 41.2, 37.5, 34.9]),
    (1999, [44.4, 40.0, 36.6, 34.6]), (2002, [53.1, 51.0, 45.8, 41.9, 38.5, 35.4]),
    (2005, [47.2, 43.7, 39.6, 36.1, 34.8]),
    (2009, [92.3, 90.4, 82.9, 78.0, 75.4, 59.6, 48.4, 45.0, 43.3, 40.7, 36.4, 34.3]),
    (2012, [46.0, 42.5, 38.8, 35.3, 34.4]), (2015, [48.1, 44.9, 41.0, 37.0, 34.6]),
    (2019, [42.3, 38.9, 35.8, 34.5]), (2022, [50.5, 47.3, 43.9, 40.2, 36.6, 34.7]),
    (2025, [64.3, 62.1, 60.0, 50.5, 48.4, 44.1, 39.8, 36.4, 34.9]), (2028, [45.1, 41.4, 37.7, 35.0]),
    (2031, [46.6, 43.2, 39.5, 35.9, 34.6]), (2034, [55.8, 49.0, 44.5, 40.6, 36.8, 34.8]),
    (2037, [64.7, 55.4, 47.5, 43.6, 40.2, 37.1, 34.9]), (2040, [44.8, 41.0, 37.5, 35.2]),
    (2043, [47.9, 43.6, 39.9, 36.3, 34.8]), (2046, [45.4, 41.8, 38.1, 35.4]),
    (2049, [48.6, 44.7, 40.4, 36.8, 35.1]),
    (2052, [84.2, 72.4, 65.5, 63.4, 53.1, 50.5, 45.8, 43.3, 40.7, 38.1, 35.3]),
    (2055, [46.3, 42.9, 39.2, 36.1, 34.9]), (2058, [59.5, 56.1, 47.5, 44.0, 41.6, 38.3, 35.6]),
    (2060, [55.1, 49.8, 45.2, 42.3, 39.0, 36.2, 34.8]), (2063, [47.0, 43.3, 40.1, 37.0, 35.0]),
    (2066, [45.8, 42.5, 39.4, 36.5, 34.7]), (2069, [48.6, 45.1, 41.6, 38.3, 35.4]),
    (2072, [46.4, 43.3, 40.7, 37.4, 34.9]), (2075, [45.8, 42.1, 38.9, 35.9, 34.5]),
    (2078, [44.2, 40.7, 37.4, 34.7]), (2081, [43.5, 39.8, 36.5, 34.3]),
    (2084, [56.1, 55.7, 51.8, 49.3, 45.8, 42.4, 38.6, 35.5, 34.0]),
    (2086, [54.0, 50.3, 47.5, 44.2, 41.1, 38.1, 35.2, 33.9]), (2088, [51.2, 48.4, 46.0, 43.3, 40.6, 37.9, 35.5, 33.8]),
    (2090, [50.6, 47.0, 44.6, 41.8, 39.2, 36.6, 34.4, 33.6]), (2093, [42.0, 38.5, 35.8, 33.7]),
    (2096, [36.6, 34.8, 33.5]), (2100, [55.2, 54.8, 50.1, 41.5, 37.2, 35.5, 33.4]),
]

# ---------------- assemble panels ----------------
PANELS = [
    dict(pts=TXX_ESPPE_PTS, thr=(TXX_ESPPE_THR_YR, TXX_ESPPE_THR), rl=(TXX_ESPPE_RL_YR, TXX_ESPPE_RL),
         yrange=[28.1, 53.5], yticks=[30, 35, 40, 45, 50]),
    dict(pts=RX1_ESPPE_PTS, thr=(RX1_ESPPE_YR, RX1_ESPPE_THR), rl=(RX1_ESPPE_YR, RX1_ESPPE_RL),
         yrange=[3.4, 29.85], yticks=[5, 10, 15, 20, 25]),
    dict(pts=RX5_ESPPE_PTS, thr=(RX5_ESPPE_THR_YR, RX5_ESPPE_THR), rl=(RX5_ESPPE_RL_YR, RX5_ESPPE_RL),
         yrange=[29.77, 64.34], yticks=[30, 35, 40, 45, 50, 55, 60]),
    dict(pts=TXX_CMIP5_PTS, thr=(TXX_CMIP5_THR_YR, TXX_CMIP5_THR), rl=(TXX_CMIP5_RL_YR, TXX_CMIP5_RL),
         yrange=[29.34, 48.67], yticks=[30, 35, 40, 45]),
    dict(pts=RX1_CMIP5_PTS, thr=(RX1_CMIP5_YR, RX1_CMIP5_THR), rl=(RX1_CMIP5_YR, RX1_CMIP5_RL),
         yrange=[5.13, 35.22], yticks=[10, 15, 20, 25, 30, 35]),
    dict(pts=RX5_CMIP5_PTS, thr=(RX5_CMIP5_THR_YR, RX5_CMIP5_THR), rl=(RX5_CMIP5_RL_YR, RX5_CMIP5_RL),
         yrange=[28.6, 132.45], yticks=[40, 60, 80, 100, 120]),
]

W, H = 1354, 1050
# target pixel positions in the reference picture
COL_PX = [(81.3, 432.0), (527.7, 879.0), (974.7, 1326.0)]
ROW_PX = [(57.7, 461.0), (578.3, 982.0)]
FONT = "Liberation Sans, Arial, Helvetica, sans-serif"
PT_COLOR = "rgba(0,0,255,0.5)"


def cx(x):
    # map a target picture x to a page x (compensates the photographing step)
    return (x + 0.86) / 0.9946


def cy(y):
    return (y - 10.13) / 0.9856


def px_x(x):
    return min(cx(x), W) / W


def px_y(y):
    return 1 - max(cy(y), 0) / H


fig = go.Figure()
layout = dict(
    width=W, height=H, margin=dict(l=0, r=0, t=0, b=0),
    paper_bgcolor="white", plot_bgcolor="white", showlegend=False,
    font=dict(family=FONT, size=19, color="black"),
)

for i, p in enumerate(PANELS):
    r, c = divmod(i, 3)
    sfx = "" if i == 0 else str(i + 1)
    xs, ys = [], []
    for yr, vals in p["pts"]:
        xs += [yr] * len(vals)
        ys += vals
    fig.add_trace(go.Scatter(
        x=xs, y=ys, mode="markers", xaxis="x" + sfx, yaxis="y" + sfx,
        marker=dict(symbol="x-thin", size=8, line=dict(width=1.15, color=PT_COLOR)),
        hoverinfo="skip", cliponaxis=True))
    fig.add_trace(go.Scatter(
        x=p["thr"][0], y=p["thr"][1], mode="lines", xaxis="x" + sfx, yaxis="y" + sfx,
        line=dict(color="black", width=1.8, shape="spline", smoothing=1.0), name=LEGEND_LABELS[0]))
    fig.add_trace(go.Scatter(
        x=p["rl"][0], y=p["rl"][1], mode="lines", xaxis="x" + sfx, yaxis="y" + sfx,
        line=dict(color="#ee0000", width=1.8, shape="spline", smoothing=1.0), name=LEGEND_LABELS[1]))

    x0, x1 = COL_PX[c]
    y0, y1 = ROW_PX[r]
    common = dict(showline=True, linecolor="black", linewidth=1.3, mirror=True,
                  ticks="outside", ticklen=12, tickwidth=1.3, tickcolor="black",
                  showgrid=False, zeroline=False, tickfont=dict(size=19, family=FONT))
    layout["xaxis" + sfx] = dict(
        domain=[px_x(x0), px_x(x1)], range=[1850.4, 2109.6], tickvals=X_TICKS,
        anchor="y" + sfx, ticklabelstandoff=6,
        title=dict(text=X_TITLE, font=dict(size=19, family=FONT), standoff=2), **common)
    layout["yaxis" + sfx] = dict(
        domain=[px_y(y1), px_y(y0)], range=p["yrange"], tickvals=p["yticks"],
        anchor="x" + sfx, tickangle=-90, ticklabelstandoff=8,
        title=dict(text=Y_UNITS[c], font=dict(size=19, family=FONT), standoff=0), **common)

annotations = []
for c, t in enumerate(PANEL_TITLES):
    x0, x1 = COL_PX[c]
    annotations.append(dict(text="<b>" + t + "</b>", x=px_x((x0 + x1) / 2), y=px_y(34),
                            xref="paper", yref="paper", xanchor="center", yanchor="middle",
                            showarrow=False, font=dict(size=22, family=FONT)))
for r, t in enumerate(ROW_LABELS):
    yc = [83.5, 604.5][r]
    annotations.append(dict(text=t, x=px_x(99), y=px_y(yc), xref="paper", yref="paper",
                            xanchor="left", yanchor="middle", showarrow=False,
                            font=dict(size=26.5, family=FONT)))

shapes = []
# legend (inside lower-right panel)
for k, (lab, col) in enumerate(zip(LEGEND_LABELS, ["black", "#ee0000"])):
    yy = [601.7, 626.7][k]
    shapes.append(dict(type="line", xref="paper", yref="paper", x0=px_x(992), x1=px_x(1029),
                       y0=px_y(yy), y1=px_y(yy), line=dict(color=col, width=1.8)))
    annotations.append(dict(text=lab, x=px_x(1046), y=px_y(yy), xref="paper", yref="paper",
                            xanchor="left", yanchor="middle", showarrow=False,
                            font=dict(size=19.5, family=FONT)))
# outer frame
shapes.append(dict(type="rect", xref="paper", yref="paper", x0=px_x(10.6), x1=1351.5 / W,
                   y0=-0.1, y1=1 - 1.2 / H, line=dict(color="#2b2b2b", width=4.5),
                   fillcolor="rgba(0,0,0,0)", layer="above"))

layout["annotations"] = annotations
layout["shapes"] = shapes
fig.update_layout(**layout)
fig.write_html("out.html", config={"displayModeBar": False})
